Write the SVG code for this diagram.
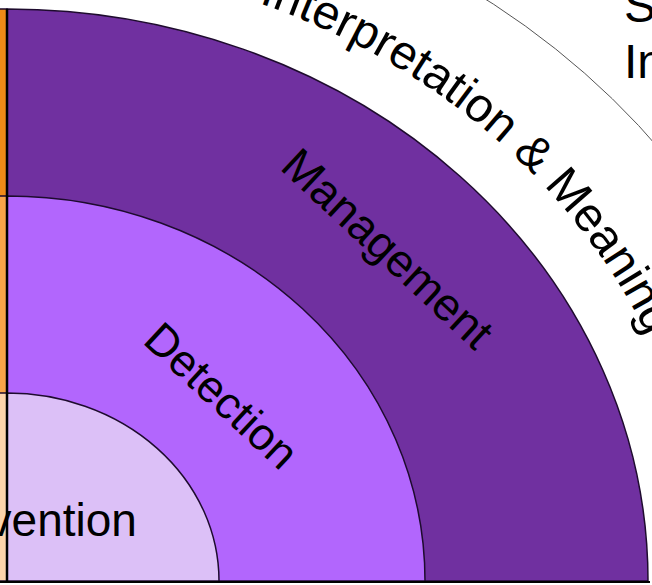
<svg xmlns="http://www.w3.org/2000/svg" xmlns:xlink="http://www.w3.org/1999/xlink" width="652" height="585" viewBox="0 0 652 585">
<style>
.ring{stroke:#1e0b2e;stroke-width:1.5}
.lbl{font-family:"Liberation Sans",Arial,sans-serif;fill:#000}
</style>
<defs>
<path id="arcPath" d="M -485.8,142.6 A 697 620 0 0 1 704 581"/>
</defs>
<rect width="652" height="585" fill="#ffffff"/>
<g id="outer-ring">
<path d="M 7,-137 A 817 718 0 0 1 824 581" fill="none" stroke="#555555" stroke-width="1"/>
</g>
<g id="left-rings">
<path class="ring" d="M7,581 L-634,581 A641 572 0 0 1 7,9 Z" fill="#ef8a17"/>
<path class="ring" d="M7,581 L-411,581 A418 385 0 0 1 7,196 Z" fill="#f8a448"/>
<path class="ring" d="M7,581 L-205,581 A212 188 0 0 1 7,393 Z" fill="#fdd4aa"/>
</g>
<g id="management">
<path class="ring" d="M7,581 L648,581 A641 572 0 0 0 7,9 Z" fill="#7030a0"/>
</g>
<g id="detection">
<path class="ring" d="M7,581 L425,581 A418 385 0 0 0 7,196 Z" fill="#b266fd"/>
</g>
<g id="prevention">
<path class="ring" d="M7,581 L219,581 A212 188 0 0 0 7,393 Z" fill="#dcc0f7"/>
</g>
<g id="axes">
<line x1="7" y1="9" x2="7" y2="582" stroke="#000" stroke-width="2.5"/>
<line x1="0" y1="582" x2="650" y2="582" stroke="#000" stroke-width="2"/>
</g>
<g id="labels">
<text class="lbl" x="-83" y="536" font-size="46">Prevention</text>
<text class="lbl" font-size="45" text-anchor="middle" transform="translate(211,407) rotate(43)">Detection</text>
<text class="lbl" font-size="46" text-anchor="middle" transform="translate(377,260) rotate(43)">Management</text>
<text class="lbl" font-size="48"><textPath xlink:href="#arcPath" startOffset="793">Interpretation &amp; Meaning</textPath></text>
<text class="lbl" x="624" y="22" font-size="48">S</text>
<text class="lbl" x="624" y="78" font-size="48">In</text>
</g>
</svg>
